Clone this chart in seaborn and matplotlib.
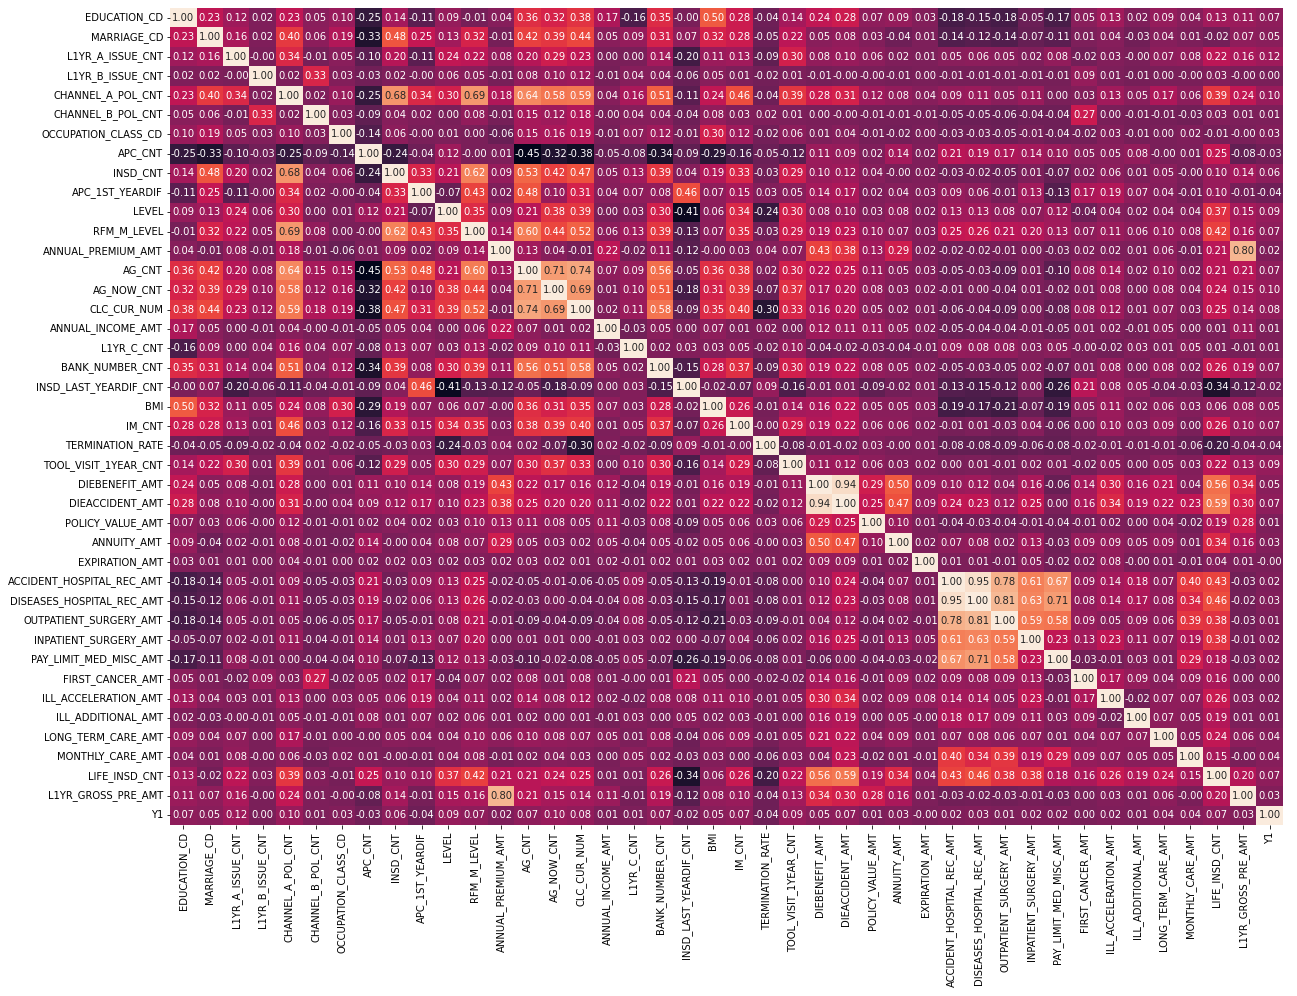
import numpy as np
import pandas as pd
import seaborn as sns
import matplotlib
matplotlib.use('Agg')
import matplotlib.pyplot as plt

labels = ['EDUCATION_CD', 'MARRIAGE_CD', 'L1YR_A_ISSUE_CNT', 'L1YR_B_ISSUE_CNT',
          'CHANNEL_A_POL_CNT', 'CHANNEL_B_POL_CNT', 'OCCUPATION_CLASS_CD', 'APC_CNT',
          'INSD_CNT', 'APC_1ST_YEARDIF', 'LEVEL', 'RFM_M_LEVEL', 'ANNUAL_PREMIUM_AMT',
          'AG_CNT', 'AG_NOW_CNT', 'CLC_CUR_NUM', 'ANNUAL_INCOME_AMT', 'L1YR_C_CNT',
          'BANK_NUMBER_CNT', 'INSD_LAST_YEARDIF_CNT', 'BMI', 'IM_CNT', 'TERMINATION_RATE',
          'TOOL_VISIT_1YEAR_CNT', 'DIEBENEFIT_AMT', 'DIEACCIDENT_AMT', 'POLICY_VALUE_AMT',
          'ANNUITY_AMT', 'EXPIRATION_AMT', 'ACCIDENT_HOSPITAL_REC_AMT',
          'DISEASES_HOSPITAL_REC_AMT', 'OUTPATIENT_SURGERY_AMT', 'INPATIENT_SURGERY_AMT',
          'PAY_LIMIT_MED_MISC_AMT', 'FIRST_CANCER_AMT', 'ILL_ACCELERATION_AMT',
          'ILL_ADDITIONAL_AMT', 'LONG_TERM_CARE_AMT', 'MONTHLY_CARE_AMT', 'LIFE_INSD_CNT',
          'L1YR_GROSS_PRE_AMT', 'Y1']

# lower triangle of the correlation matrix, one list per row (values left of the diagonal)
education_cd = []
marriage_cd = [0.23]
l1yr_a_issue_cnt = [0.12, 0.16]
l1yr_b_issue_cnt = [0.02, 0.02, -0.00]
channel_a_pol_cnt = [0.23, 0.40, 0.34, 0.02]
channel_b_pol_cnt = [0.05, 0.06, -0.01, 0.33, 0.02]
occupation_class_cd = [0.10, 0.19, 0.05, 0.03, 0.10, 0.03]
apc_cnt = [-0.25, -0.33, -0.10, -0.03, -0.25, -0.09, -0.14]
insd_cnt = [0.14, 0.48, 0.20, 0.02, 0.68, 0.04, 0.06, -0.24]
apc_1st_yeardif = [-0.11, 0.25, -0.11, -0.00, 0.34, 0.02, -0.00, -0.04, 0.33]
level = [0.09, 0.13, 0.24, 0.06, 0.30, 0.00, 0.01, 0.12, 0.21, -0.07]
rfm_m_level = [-0.01, 0.32, 0.22, 0.05, 0.69, 0.08, 0.00, -0.00, 0.62, 0.43, 0.35]
annual_premium_amt = [0.04, -0.01, 0.08, -0.01, 0.18, -0.01, -0.06, 0.01, 0.09, 0.02, 0.09,
                      0.14]
ag_cnt = [0.36, 0.42, 0.20, 0.08, 0.64, 0.15, 0.15, -0.45, 0.53, 0.48, 0.21,
          0.60, 0.13]
ag_now_cnt = [0.32, 0.39, 0.29, 0.10, 0.58, 0.12, 0.16, -0.32, 0.42, 0.10, 0.38,
              0.44, 0.04, 0.71]
clc_cur_num = [0.38, 0.44, 0.23, 0.12, 0.59, 0.18, 0.19, -0.38, 0.47, 0.31, 0.39,
               0.52, -0.01, 0.74, 0.69]
annual_income_amt = [0.17, 0.05, 0.00, -0.01, 0.04, -0.00, -0.01, -0.05, 0.05, 0.04, 0.00,
                     0.06, 0.22, 0.07, 0.01, 0.02]
l1yr_c_cnt = [-0.16, 0.09, 0.00, 0.04, 0.16, 0.04, 0.07, -0.08, 0.13, 0.07, 0.03,
              0.13, -0.02, 0.09, 0.10, 0.11, -0.03]
bank_number_cnt = [0.35, 0.31, 0.14, 0.04, 0.51, 0.04, 0.12, -0.34, 0.39, 0.08, 0.30,
                   0.39, 0.11, 0.56, 0.51, 0.58, 0.05, 0.02]
insd_last_yeardif_cnt = [-0.00, 0.07, -0.20, -0.06, -0.11, -0.04, -0.01, -0.09, 0.04, 0.46, -0.41,
                         -0.13, -0.12, -0.05, -0.18, -0.09, 0.00, 0.03, -0.15]
bmi = [0.50, 0.32, 0.11, 0.05, 0.24, 0.08, 0.30, -0.29, 0.19, 0.07, 0.06,
       0.07, -0.00, 0.36, 0.31, 0.35, 0.07, 0.03, 0.28, -0.02]
im_cnt = [0.28, 0.28, 0.13, 0.01, 0.46, 0.03, 0.12, -0.16, 0.33, 0.15, 0.34,
          0.35, 0.03, 0.38, 0.39, 0.40, 0.01, 0.05, 0.37, -0.07, 0.26]
termination_rate = [-0.04, -0.05, -0.09, -0.02, -0.04, 0.02, -0.02, -0.05, -0.03, 0.03, -0.24,
                    -0.03, 0.04, 0.02, -0.07, -0.30, 0.02, -0.02, -0.09, 0.09, -0.01, -0.00]
tool_visit_1year_cnt = [0.14, 0.22, 0.30, 0.01, 0.39, 0.01, 0.06, -0.12, 0.29, 0.05, 0.30,
                        0.29, 0.07, 0.30, 0.37, 0.33, 0.00, 0.10, 0.30, -0.16, 0.14, 0.29,
                        -0.08]
diebenefit_amt = [0.24, 0.05, 0.08, -0.01, 0.28, 0.00, 0.01, 0.11, 0.10, 0.14, 0.08,
                  0.19, 0.43, 0.22, 0.17, 0.16, 0.12, -0.04, 0.19, -0.01, 0.16, 0.19,
                  -0.01, 0.11]
dieaccident_amt = [0.28, 0.08, 0.10, -0.00, 0.31, -0.00, 0.04, 0.09, 0.12, 0.17, 0.10,
                   0.23, 0.38, 0.25, 0.20, 0.20, 0.11, -0.02, 0.22, 0.01, 0.22, 0.22,
                   -0.02, 0.12, 0.94]
policy_value_amt = [0.07, 0.03, 0.06, -0.00, 0.12, -0.01, -0.01, 0.02, 0.04, 0.02, 0.03,
                    0.10, 0.13, 0.11, 0.08, 0.05, 0.11, -0.03, 0.08, -0.09, 0.05, 0.06,
                    0.03, 0.06, 0.29, 0.25]
annuity_amt = [0.09, -0.04, 0.02, -0.01, 0.08, -0.01, -0.02, 0.14, -0.00, 0.04, 0.08,
               0.07, 0.29, 0.05, 0.03, 0.02, 0.05, -0.04, 0.05, -0.02, 0.05, 0.06,
               -0.00, 0.03, 0.50, 0.47, 0.10]
expiration_amt = [0.03, 0.01, 0.01, 0.00, 0.04, -0.01, 0.00, 0.02, 0.02, 0.03, 0.02,
                  0.03, 0.02, 0.03, 0.02, 0.01, 0.02, -0.01, 0.02, 0.01, 0.03, 0.02,
                  0.01, 0.02, 0.09, 0.09, 0.01, 0.02]
accident_hospital_rec_amt = [-0.18, -0.14, 0.05, -0.01, 0.09, -0.05, -0.03, 0.21, -0.03, 0.09, 0.13,
                             0.25, -0.02, -0.05, -0.01, -0.06, -0.05, 0.09, -0.05, -0.13, -0.19, -0.01,
                             -0.08, 0.00, 0.10, 0.24, -0.04, 0.07, 0.01]
diseases_hospital_rec_amt = [-0.15, -0.12, 0.06, -0.01, 0.11, -0.05, -0.03, 0.19, -0.02, 0.06, 0.13,
                             0.26, -0.02, -0.03, 0.00, -0.04, -0.04, 0.08, -0.03, -0.15, -0.17, 0.01,
                             -0.08, 0.01, 0.12, 0.23, -0.03, 0.08, 0.01, 0.95]
outpatient_surgery_amt = [-0.18, -0.14, 0.05, -0.01, 0.05, -0.06, -0.05, 0.17, -0.05, -0.01, 0.08,
                          0.21, -0.01, -0.09, -0.04, -0.09, -0.04, 0.08, -0.05, -0.12, -0.21, -0.03,
                          -0.09, -0.01, 0.04, 0.12, -0.04, 0.02, -0.01, 0.78, 0.81]
inpatient_surgery_amt = [-0.05, -0.07, 0.02, -0.01, 0.11, -0.04, -0.01, 0.14, 0.01, 0.13, 0.07,
                         0.20, 0.00, 0.01, 0.01, 0.00, -0.01, 0.03, 0.02, 0.00, -0.07, 0.04,
                         -0.06, 0.02, 0.16, 0.25, -0.01, 0.13, 0.05, 0.61, 0.63, 0.59]
pay_limit_med_misc_amt = [-0.17, -0.11, 0.08, -0.01, 0.00, -0.04, -0.04, 0.10, -0.07, -0.13, 0.12,
                          0.13, -0.03, -0.10, -0.02, -0.08, -0.05, 0.05, -0.07, -0.26, -0.19, -0.06,
                          -0.08, 0.01, -0.06, 0.00, -0.04, -0.03, -0.02, 0.67, 0.71, 0.58,
                          0.23]
first_cancer_amt = [0.05, 0.01, -0.02, 0.09, 0.03, 0.27, -0.02, 0.05, 0.02, 0.17, -0.04,
                    0.07, 0.02, 0.08, 0.01, 0.08, 0.01, -0.00, 0.01, 0.21, 0.05, 0.00,
                    -0.02, -0.02, 0.14, 0.16, -0.01, 0.09, 0.02, 0.09, 0.08, 0.09,
                    0.13, -0.03]
ill_acceleration_amt = [0.13, 0.04, 0.03, 0.01, 0.13, 0.00, 0.03, 0.05, 0.06, 0.19, 0.04,
                        0.11, 0.02, 0.14, 0.08, 0.12, 0.02, -0.02, 0.08, 0.08, 0.11, 0.10,
                        -0.01, 0.05, 0.30, 0.34, 0.02, 0.09, 0.08, 0.14, 0.14, 0.05,
                        0.23, -0.01, 0.17]
ill_additional_amt = [0.02, -0.03, -0.00, -0.01, 0.05, -0.01, -0.01, 0.08, 0.01, 0.07, 0.02,
                      0.06, 0.01, 0.02, 0.00, 0.01, -0.01, 0.03, 0.00, 0.05, 0.02, 0.03,
                      -0.01, 0.00, 0.16, 0.19, 0.00, 0.05, -0.00, 0.18, 0.17, 0.09,
                      0.11, 0.03, 0.09, -0.02]
long_term_care_amt = [0.09, 0.04, 0.07, 0.00, 0.17, -0.01, 0.00, -0.00, 0.05, 0.04, 0.04,
                      0.10, 0.06, 0.10, 0.08, 0.07, 0.05, 0.01, 0.08, -0.04, 0.06, 0.09,
                      -0.01, 0.05, 0.21, 0.22, 0.04, 0.09, 0.01, 0.07, 0.08, 0.06,
                      0.07, 0.01, 0.04, 0.07, 0.07]
monthly_care_amt = [0.04, 0.01, 0.08, -0.00, 0.06, -0.03, 0.02, 0.01, -0.00, -0.01, 0.04,
                    0.08, -0.01, 0.02, 0.04, 0.03, 0.00, 0.05, 0.02, -0.03, 0.03, 0.00,
                    -0.06, 0.03, 0.04, 0.23, -0.02, 0.01, -0.01, 0.40, 0.34, 0.39,
                    0.19, 0.29, 0.09, 0.07, 0.05, 0.05]
life_insd_cnt = [0.13, -0.02, 0.22, 0.03, 0.39, 0.03, -0.01, 0.25, 0.10, 0.10, 0.37,
                 0.42, 0.21, 0.21, 0.24, 0.25, 0.01, 0.01, 0.26, -0.34, 0.06, 0.26,
                 -0.20, 0.22, 0.56, 0.59, 0.19, 0.34, 0.04, 0.43, 0.46, 0.38,
                 0.38, 0.18, 0.16, 0.26, 0.19, 0.24, 0.15]
l1yr_gross_pre_amt = [0.11, 0.07, 0.16, -0.00, 0.24, 0.01, -0.00, -0.08, 0.14, -0.01, 0.15,
                      0.16, 0.80, 0.21, 0.15, 0.14, 0.11, -0.01, 0.19, -0.12, 0.08, 0.10,
                      -0.04, 0.13, 0.34, 0.30, 0.28, 0.16, 0.01, -0.03, -0.02, -0.03,
                      -0.01, -0.03, 0.00, 0.03, 0.01, 0.06, -0.00, 0.20]
y1 = [0.07, 0.05, 0.12, 0.00, 0.10, 0.01, 0.03, -0.03, 0.06, -0.04, 0.09,
      0.07, 0.02, 0.07, 0.10, 0.08, 0.01, 0.01, 0.07, -0.02, 0.05, 0.07,
      -0.04, 0.09, 0.05, 0.07, 0.01, 0.03, -0.00, 0.02, 0.03, 0.01,
      0.02, 0.02, 0.00, 0.02, 0.01, 0.04, 0.04, 0.07, 0.03]

rows = [education_cd, marriage_cd, l1yr_a_issue_cnt, l1yr_b_issue_cnt, channel_a_pol_cnt,
        channel_b_pol_cnt, occupation_class_cd, apc_cnt, insd_cnt, apc_1st_yeardif, level,
        rfm_m_level, annual_premium_amt, ag_cnt, ag_now_cnt, clc_cur_num, annual_income_amt,
        l1yr_c_cnt, bank_number_cnt, insd_last_yeardif_cnt, bmi, im_cnt, termination_rate,
        tool_visit_1year_cnt, diebenefit_amt, dieaccident_amt, policy_value_amt, annuity_amt,
        expiration_amt, accident_hospital_rec_amt, diseases_hospital_rec_amt,
        outpatient_surgery_amt, inpatient_surgery_amt, pay_limit_med_misc_amt,
        first_cancer_amt, ill_acceleration_amt, ill_additional_amt, long_term_care_amt,
        monthly_care_amt, life_insd_cnt, l1yr_gross_pre_amt, y1]

n = len(labels)
corr = np.eye(n)
for i, r in enumerate(rows):
    corr[i, :i] = r
    corr[:i, i] = r
df = pd.DataFrame(corr, index=labels, columns=labels)

fig = plt.figure(figsize=(1297 / 72, 996 / 72), dpi=72)
ax = fig.add_axes([170 / 1297, 171 / 996, 1113 / 1297, 817 / 996])
sns.heatmap(df, annot=True, fmt='.2f', cbar=False, annot_kws={'size': 10}, ax=ax)
ax.set_xticks(np.arange(n) + 0.5)
ax.set_xticklabels(labels, rotation=90, fontsize=10)
ax.set_yticks(np.arange(n) + 0.5)
ax.set_yticklabels(labels, rotation=0, fontsize=10)
fig.savefig('out.png', dpi=72)
